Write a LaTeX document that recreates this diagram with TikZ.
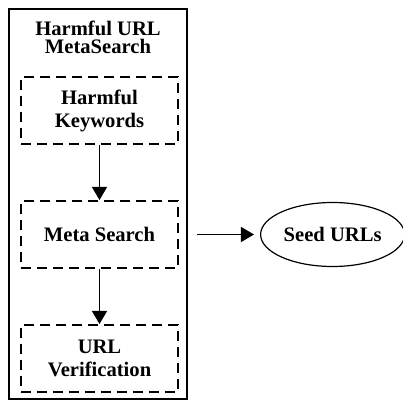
\documentclass[tikz,border=0pt]{standalone}
\usepackage{fontspec}
\setmainfont{Liberation Serif}
\usetikzlibrary{positioning, shapes.geometric, arrows.meta}
\tikzset{
    Flow/.style = {
        line width=0.7pt,
        -{Triangle[length=6.5pt, width=7.5pt]}
    },
    Step/.style = {
        draw, line width=1pt, dash pattern=on 5pt off 3pt,
        minimum width=78.5pt, minimum height=33.5pt,
        align=center, font=\bfseries\fontsize{10.3}{11.5}\selectfont
    }
}

\begin{document}
\begin{tikzpicture}
    \useasboundingbox (0,0) rectangle (201.5pt,-200.5pt);
    \node [draw, line width=0.6pt, minimum width=89pt, minimum height=195pt] (B) at (49pt,-102pt) {};
    \node [below=6pt of B.north, inner sep=0pt, align=center, font=\bfseries\fontsize{10.3}{9}\selectfont] (T) {Harmful URL\\MetaSearch};
    \node [Step] (K) at (49.75pt,-55.25pt) {Harmful\\Keywords};
    \node [Step, below=27.5pt of K] (M) {Meta Search};
    \node [Step, below=27.5pt of M] (V) {URL\\Verification};
    \node [draw, ellipse, line width=0.6pt, inner sep=0pt, minimum width=72pt, minimum height=32pt, right=40.5pt of M, font=\bfseries\fontsize{10.3}{11.5}\selectfont] (S) {Seed URLs};
    \draw [Flow] (K) to (M);
    \draw [Flow] (M) to (V);
    \draw [Flow, shorten <=9pt, shorten >=3pt] (M) to (S);
\end{tikzpicture}
\end{document}
